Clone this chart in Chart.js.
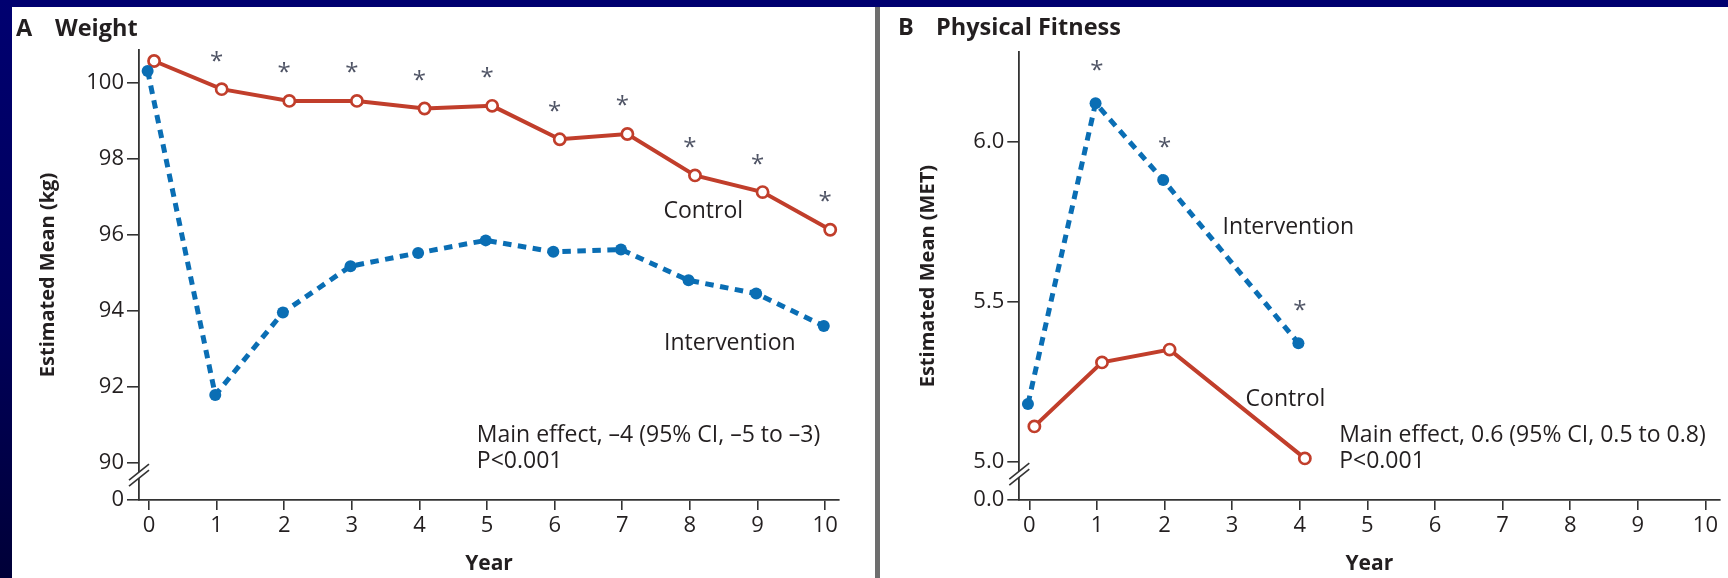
<!DOCTYPE html>
<html>
<head>
<meta charset="utf-8">
<script src="https://cdn.jsdelivr.net/npm/chart.js@4.4.1/dist/chart.umd.min.js"></script>
<style>
  html, body { margin: 0; padding: 0; }
  body {
    width: 1728px; height: 578px; overflow: hidden; position: relative;
    background: linear-gradient(to bottom, #000070 0%, #00005a 55%, #000038 100%);
  }
  .panel { position: absolute; top: 7px; height: 571px; background: #ffffff; }
  #panelA { left: 12px; width: 863px; }
  #panelB { left: 880px; width: 848px; }
  #divider { position: absolute; left: 875px; top: 7px; width: 5px; height: 571px; background: #6e6e6e; }
  canvas { display: block; }
</style>
</head>
<body>
<div class="panel" id="panelA"><canvas id="weightChart" width="863" height="571"></canvas></div>
<div id="divider"></div>
<div class="panel" id="panelB"><canvas id="fitnessChart" width="848" height="571"></canvas></div>

<script>
// ---- Weight (kg) by study year ----
const weightYears = [0, 1, 2, 3, 4, 5, 6, 7, 8, 9, 10];
const weightControl = [100.57, 99.83, 99.52, 99.52, 99.32, 99.39, 98.51, 98.65, 97.56, 97.12, 96.13];
const weightIntervention = [100.31, 91.78, 93.95, 95.17, 95.52, 95.85, 95.55, 95.61, 94.80, 94.45, 93.60];
const weightSignificantYears = [1, 2, 3, 4, 5, 6, 7, 8, 9, 10];
const weightTickValues = [90, 92, 94, 96, 98, 100];

// ---- Physical fitness (MET) by study year ----
const fitnessYears = [0, 1, 2, 4];
const fitnessControl = [5.11, 5.31, 5.35, 5.01];
const fitnessIntervention = [5.18, 6.12, 5.88, 5.37];
const fitnessSignificantYears = [1, 2, 4];
const fitnessTickValues = [5.0, 5.5, 6.0];

// ---- shared x axis ----
const yearTicks = [0, 1, 2, 3, 4, 5, 6, 7, 8, 9, 10];

const RED = '#c13e2b';
const BLUE = '#0a6eb4';
const INK = '#231f20';
const AXIS = '#333333';
const FONT = '"Open Sans", "Noto Sans", sans-serif';

// small horizontal dodge so the two groups do not sit on top of each other
const CONTROL_SHIFT = 0.075;
const INTERVENTION_SHIFT = -0.02;

function pairs(xs, ys, shift) {
  return xs.map((x, i) => ({ x: x + shift, y: ys[i] }));
}

// Titles, series labels, significance stars and the axis break
const decorPlugin = {
  id: 'decor',
  afterDatasetsDraw(chart, args, opts) {
    const ctx = chart.ctx;
    const xs = chart.scales.x, ys = chart.scales.y;
    ctx.save();

    // panel heading
    ctx.fillStyle = INK;
    ctx.textBaseline = 'alphabetic';
    ctx.textAlign = 'left';
    ctx.font = 'bold 23.5px ' + FONT;
    ctx.fillText(opts.letter, opts.letterX, opts.titleBaseline);
    ctx.fillText(opts.title, opts.titleX, opts.titleBaseline);

    // series labels and main-effect note
    ctx.font = '23px ' + FONT;
    ctx.textBaseline = 'middle';
    opts.labels.forEach(l => {
      ctx.fillText(l.text, xs.getPixelForValue(l.x), ys.getPixelForValue(l.y) + 1.5);
    });

    // significance stars above the upper series
    ctx.fillStyle = '#4f5465';
    ctx.textAlign = 'center';
    ctx.textBaseline = 'alphabetic';
    ctx.font = '24px ' + FONT;
    opts.stars.years.forEach(yr => {
      const i = opts.stars.xs.indexOf(yr);
      const top = Math.min(ys.getPixelForValue(opts.stars.a[i]), ys.getPixelForValue(opts.stars.b[i]));
      const cy = top - opts.stars.gap;
      ctx.fillText('*', xs.getPixelForValue(yr), cy + 14);
    });

    // axis break marks between the zero tick and the first real tick
    const ax = chart.chartArea.left;
    const by = ys.getPixelForValue(opts.breakAbove) + 12.5;
    ctx.fillStyle = '#ffffff';
    ctx.beginPath();
    ctx.moveTo(ax - 10, by + 5);
    ctx.lineTo(ax + 10, by - 11);
    ctx.lineTo(ax + 10, by - 5);
    ctx.lineTo(ax - 10, by + 11);
    ctx.closePath();
    ctx.fill();
    ctx.strokeStyle = AXIS;
    ctx.lineWidth = 1.6;
    [-3, 3].forEach(d => {
      ctx.beginPath();
      ctx.moveTo(ax - 10, by + 8 + d);
      ctx.lineTo(ax + 10, by - 8 + d);
      ctx.stroke();
    });
    ctx.restore();
  }
};

function makeChart(canvasId, cfg) {
  return new Chart(document.getElementById(canvasId), {
    type: 'line',
    data: {
      datasets: [
        {
          label: 'Intervention',
          data: pairs(cfg.years, cfg.intervention, INTERVENTION_SHIFT),
          borderColor: BLUE,
          borderWidth: 5,
          borderDash: [8.5, 6.5],
          pointRadius: 6,
          pointBorderWidth: 0,
          pointBackgroundColor: BLUE,
          tension: 0
        },
        {
          label: 'Control',
          data: pairs(cfg.years, cfg.control, CONTROL_SHIFT),
          borderColor: RED,
          borderWidth: 4,
          pointRadius: 5.6,
          pointBorderWidth: 2.7,
          pointBorderColor: RED,
          pointBackgroundColor: '#ffffff',
          tension: 0
        }
      ]
    },
    options: {
      responsive: false,
      animation: false,
      events: [],
      layout: { padding: { top: cfg.padTop, right: cfg.padRight, left: 0, bottom: 0 } },
      plugins: {
        legend: { display: false },
        tooltip: { enabled: false },
        decor: cfg.decor
      },
      scales: {
        x: {
          type: 'linear',
          min: -0.148,
          max: 10.205,
          afterFit(scale) { scale.height = 78; },
          afterBuildTicks(scale) { scale.ticks = yearTicks.map(v => ({ value: v })); },
          grid: { drawOnChartArea: false, drawTicks: true, tickLength: 10, color: AXIS, lineWidth: 1.6 },
          border: { display: true, color: AXIS, width: 1.8 },
          ticks: { color: INK, font: { family: FONT, size: 22 }, padding: 3, maxRotation: 0 },
          title: {
            display: true, text: 'Year', color: INK,
            font: { family: FONT, size: 21, weight: 'bold' },
            padding: { top: 0, bottom: 1 }
          }
        },
        y: {
          type: 'linear',
          min: cfg.yMin,
          max: cfg.yMax,
          afterFit(scale) { scale.width = cfg.axisLeft; },
          afterBuildTicks(scale) {
            scale.ticks = [{ value: cfg.yMin }].concat(cfg.tickValues.map(v => ({ value: v })));
          },
          grid: { drawOnChartArea: false, drawTicks: true, tickLength: 12, color: AXIS, lineWidth: 1.6 },
          border: { display: true, color: AXIS, width: 1.8 },
          ticks: {
            color: INK, font: { family: FONT, size: 22 }, padding: 3,
            callback(v) { return v === cfg.yMin ? cfg.zeroLabel : v.toFixed(cfg.decimals); }
          },
          title: {
            display: true, text: cfg.yTitle, color: INK,
            font: { family: FONT, size: 20, weight: 'bold' },
            padding: { top: cfg.yTitlePad, bottom: 0 }
          }
        }
      }
    },
    plugins: [decorPlugin]
  });
}

makeChart('weightChart', {
  years: weightYears,
  control: weightControl,
  intervention: weightIntervention,
  yMin: 89.018, yMax: 100.86,
  tickValues: weightTickValues, zeroLabel: '0', decimals: 0,
  yTitle: 'Estimated Mean (kg)', yTitlePad: 24,
  axisLeft: 127, padTop: 43, padRight: 36,
  decor: {
    letter: 'A', letterX: 4, title: 'Weight', titleX: 43, titleBaseline: 28.5,
    labels: [
      { text: 'Control', x: 7.608, y: 96.65 },
      { text: 'Intervention', x: 7.618, y: 93.18 },
      { text: 'Main effect, \u20134 (95% CI, \u20135 to \u20133)', x: 4.848, y: 90.755 },
      { text: 'P<0.001', x: 4.848, y: 90.07 }
    ],
    stars: { years: weightSignificantYears, xs: weightYears, a: weightControl, b: weightIntervention, gap: 34.5 },
    breakAbove: 90
  }
});

makeChart('fitnessChart', {
  years: fitnessYears,
  control: fitnessControl,
  intervention: fitnessIntervention,
  yMin: 4.880, yMax: 6.279,
  tickValues: fitnessTickValues, zeroLabel: '0.0', decimals: 1,
  yTitle: 'Estimated Mean (MET)', yTitlePad: 36,
  axisLeft: 139.3, padTop: 45.3, padRight: 8.7,
  decor: {
    letter: 'B', letterX: 18, title: 'Physical Fitness', titleX: 56, titleBaseline: 28,
    labels: [
      { text: 'Intervention', x: 2.859, y: 5.737 },
      { text: 'Control', x: 3.199, y: 5.199 },
      { text: 'Main effect, 0.6 (95% CI, 0.5 to 0.8)', x: 4.583, y: 5.087 },
      { text: 'P<0.001', x: 4.583, y: 5.005 }
    ],
    stars: { years: fitnessSignificantYears, xs: fitnessYears, a: fitnessControl, b: fitnessIntervention, gap: 38.7 },
    breakAbove: 5.0
  }
});
</script>
</body>
</html>
